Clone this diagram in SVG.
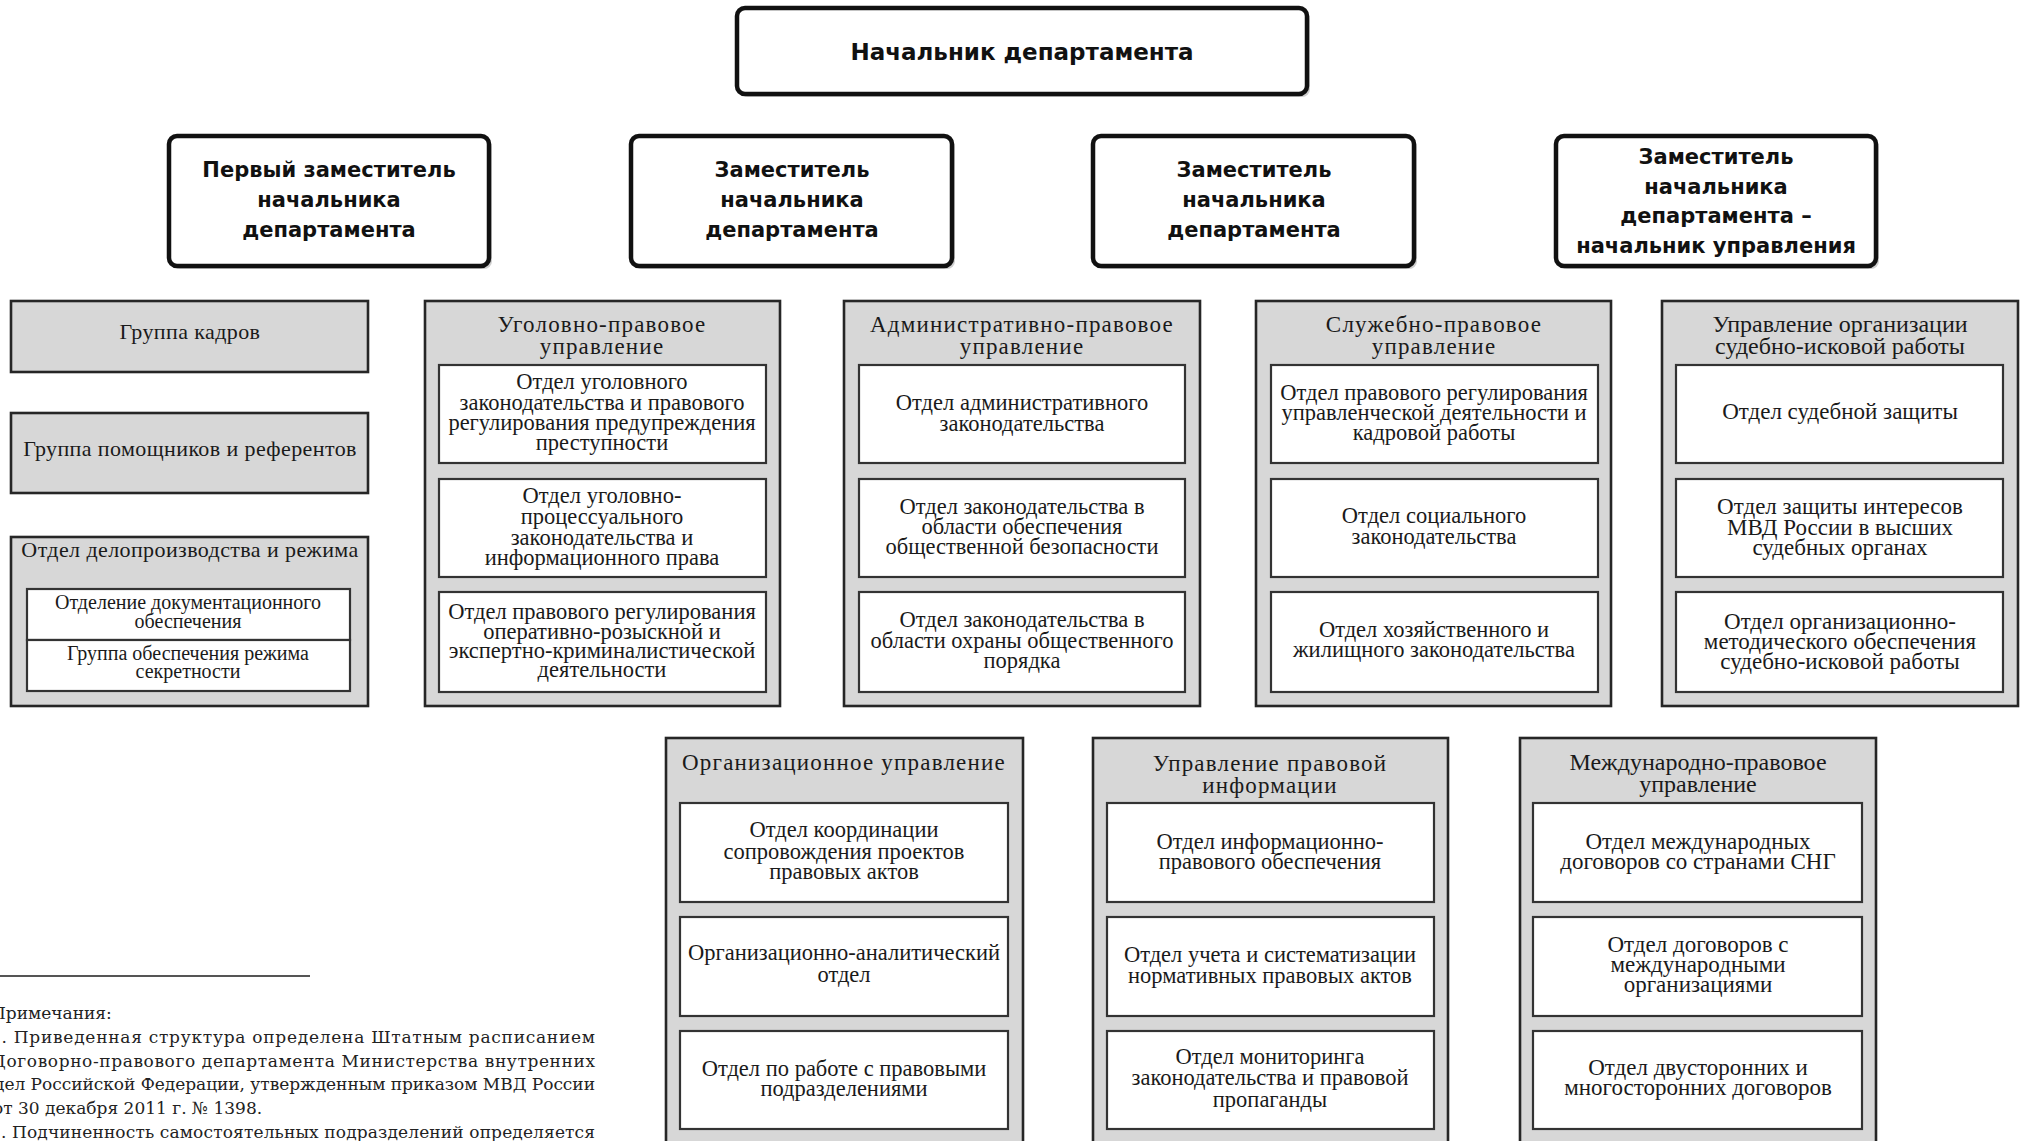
<svg xmlns="http://www.w3.org/2000/svg" width="2024" height="1141" viewBox="0 0 2024 1141">
<defs>
<style>
.lead rect{fill:#fff;stroke:#111;stroke-width:4.5}
.lead .sh{fill:#cfcfcf;stroke:none}
.lead text{font-family:"DejaVu Sans","Liberation Sans",sans-serif;font-weight:bold;font-size:21px;fill:#111;text-anchor:middle}
.lead .big{font-size:23px}
.cont{fill:#d7d7d7;stroke:#262626;stroke-width:2.6}
.box{fill:#fff;stroke:#333;stroke-width:2.2}
.t{font-family:"Liberation Serif","Times New Roman",serif;font-size:22.5px;fill:#1a1a1a;text-anchor:middle}
.h{font-size:23px;letter-spacing:1.2px}
.hl{font-size:22px;letter-spacing:0.4px}
.tb{font-size:23px}
.hb{font-size:24px}
.ts{font-size:20px}
.note{font-family:"DejaVu Serif","Liberation Serif",serif;font-size:17px;fill:#222}
</style>
</defs>
<rect width="2024" height="1141" fill="#fff"/>

<g id="connectors"></g>

<g id="head" class="lead">
<rect class="sh" x="740" y="11" width="570" height="86" rx="8"/>
<rect x="737" y="8" width="570" height="86" rx="8"/>
<text class="big" x="1022" y="60">Начальник департамента</text>
</g>

<g id="dep1" class="lead">
<rect class="sh" x="172" y="139" width="320" height="130" rx="8"/>
<rect x="169" y="136" width="320" height="130" rx="8"/>
<text x="329" y="177">Первый заместитель</text>
<text x="329" y="207">начальника</text>
<text x="329" y="237">департамента</text>
</g>
<g id="dep2" class="lead">
<rect class="sh" x="634" y="139" width="321" height="130" rx="8"/>
<rect x="631" y="136" width="321" height="130" rx="8"/>
<text x="792" y="177">Заместитель</text>
<text x="792" y="207">начальника</text>
<text x="792" y="237">департамента</text>
</g>
<g id="dep3" class="lead">
<rect class="sh" x="1096" y="139" width="321" height="130" rx="8"/>
<rect x="1093" y="136" width="321" height="130" rx="8"/>
<text x="1254" y="177">Заместитель</text>
<text x="1254" y="207">начальника</text>
<text x="1254" y="237">департамента</text>
</g>
<g id="dep4" class="lead">
<rect class="sh" x="1559" y="139" width="320" height="130" rx="8"/>
<rect x="1556" y="136" width="320" height="130" rx="8"/>
<text x="1716" y="164">Заместитель</text>
<text x="1716" y="193.5">начальника</text>
<text x="1716" y="223">департамента –</text>
<text x="1716" y="252.5">начальник управления</text>
</g>

<g id="kadry">
<rect class="cont" x="11" y="301" width="357" height="71"/>
<text class="t hl" x="190" y="339">Группа кадров</text>
</g>
<g id="pomoshniki">
<rect class="cont" x="11" y="413" width="357" height="80"/>
<text class="t hl" x="190" y="456">Группа помощников и референтов</text>
</g>
<g id="delo">
<rect class="cont" x="11" y="537" width="357" height="169"/>
<text class="t hl" x="190" y="557">Отдел делопроизводства и режима</text>
<rect class="box" x="27" y="589" width="323" height="51"/>
<text class="t ts" x="188" y="609">Отделение документационного</text>
<text class="t ts" x="188" y="628">обеспечения</text>
<rect class="box" x="27" y="640" width="323" height="51"/>
<text class="t ts" x="188" y="660">Группа обеспечения режима</text>
<text class="t ts" x="188" y="678">секретности</text>
</g>

<g id="ugol">
<rect class="cont" x="425" y="301" width="355" height="405"/>
<text class="t h" x="602" y="332">Уголовно-правовое</text>
<text class="t h" x="602" y="354">управление</text>
<rect class="box" x="439" y="365" width="327" height="98"/>
<text class="t" x="602" y="389">Отдел уголовного</text>
<text class="t" x="602" y="409.5">законодательства и правового</text>
<text class="t" x="602" y="430">регулирования предупреждения</text>
<text class="t" x="602" y="450">преступности</text>
<rect class="box" x="439" y="479" width="327" height="98"/>
<text class="t" x="602" y="503">Отдел уголовно-</text>
<text class="t" x="602" y="524">процессуального</text>
<text class="t" x="602" y="545">законодательства и</text>
<text class="t" x="602" y="565">информационного права</text>
<rect class="box" x="439" y="592" width="327" height="100"/>
<text class="t" x="602" y="619">Отдел правового регулирования</text>
<text class="t" x="602" y="639">оперативно-розыскной и</text>
<text class="t" x="602" y="658">экспертно-криминалистической</text>
<text class="t" x="602" y="677">деятельности</text>
</g>

<g id="admin">
<rect class="cont" x="844" y="301" width="356" height="405"/>
<text class="t h" x="1022" y="332">Административно-правовое</text>
<text class="t h" x="1022" y="354">управление</text>
<rect class="box" x="859" y="365" width="326" height="98"/>
<text class="t" x="1022" y="410">Отдел административного</text>
<text class="t" x="1022" y="431">законодательства</text>
<rect class="box" x="859" y="479" width="326" height="98"/>
<text class="t" x="1022" y="514">Отдел законодательства в</text>
<text class="t" x="1022" y="534">области обеспечения</text>
<text class="t" x="1022" y="554">общественной безопасности</text>
<rect class="box" x="859" y="592" width="326" height="100"/>
<text class="t" x="1022" y="627">Отдел законодательства в</text>
<text class="t" x="1022" y="648">области охраны общественного</text>
<text class="t" x="1022" y="668">порядка</text>
</g>

<g id="sluzh">
<rect class="cont" x="1256" y="301" width="355" height="405"/>
<text class="t h" x="1434" y="332">Служебно-правовое</text>
<text class="t h" x="1434" y="354">управление</text>
<rect class="box" x="1271" y="365" width="327" height="98"/>
<text class="t" x="1434" y="400">Отдел правового регулирования</text>
<text class="t" x="1434" y="420">управленческой деятельности и</text>
<text class="t" x="1434" y="440">кадровой работы</text>
<rect class="box" x="1271" y="479" width="327" height="98"/>
<text class="t" x="1434" y="523">Отдел социального</text>
<text class="t" x="1434" y="544">законодательства</text>
<rect class="box" x="1271" y="592" width="327" height="100"/>
<text class="t" x="1434" y="637">Отдел хозяйственного и</text>
<text class="t" x="1434" y="657">жилищного законодательства</text>
</g>

<g id="sud">
<rect class="cont" x="1662" y="301" width="356" height="405"/>
<text class="t hb" x="1840" y="332">Управление организации</text>
<text class="t hb" x="1840" y="354">судебно-исковой работы</text>
<rect class="box" x="1676" y="365" width="327" height="98"/>
<text class="t tb" x="1840" y="419">Отдел судебной защиты</text>
<rect class="box" x="1676" y="479" width="327" height="98"/>
<text class="t tb" x="1840" y="514">Отдел защиты интересов</text>
<text class="t tb" x="1840" y="535">МВД России в высших</text>
<text class="t tb" x="1840" y="555">судебных органах</text>
<rect class="box" x="1676" y="592" width="327" height="100"/>
<text class="t tb" x="1840" y="629">Отдел организационно-</text>
<text class="t tb" x="1840" y="649">методического обеспечения</text>
<text class="t tb" x="1840" y="669">судебно-исковой работы</text>
</g>

<g id="org">
<rect class="cont" x="666" y="738" width="357" height="430"/>
<text class="t h" x="844" y="770">Организационное управление</text>
<rect class="box" x="680" y="803" width="328" height="99"/>
<text class="t" x="844" y="837">Отдел координации</text>
<text class="t" x="844" y="859">сопровождения проектов</text>
<text class="t" x="844" y="879">правовых актов</text>
<rect class="box" x="680" y="917" width="328" height="99"/>
<text class="t" x="844" y="960">Организационно-аналитический</text>
<text class="t" x="844" y="982">отдел</text>
<rect class="box" x="680" y="1031" width="328" height="98"/>
<text class="t" x="844" y="1076">Отдел по работе с правовыми</text>
<text class="t" x="844" y="1096">подразделениями</text>
</g>

<g id="pravinf">
<rect class="cont" x="1093" y="738" width="355" height="430"/>
<text class="t h" x="1270" y="771">Управление правовой</text>
<text class="t h" x="1270" y="793">информации</text>
<rect class="box" x="1107" y="803" width="327" height="99"/>
<text class="t" x="1270" y="849">Отдел информационно-</text>
<text class="t" x="1270" y="869">правового обеспечения</text>
<rect class="box" x="1107" y="917" width="327" height="99"/>
<text class="t" x="1270" y="962">Отдел учета и систематизации</text>
<text class="t" x="1270" y="983">нормативных правовых актов</text>
<rect class="box" x="1107" y="1031" width="327" height="98"/>
<text class="t" x="1270" y="1064">Отдел мониторинга</text>
<text class="t" x="1270" y="1085">законодательства и правовой</text>
<text class="t" x="1270" y="1107">пропаганды</text>
</g>

<g id="mezhd">
<rect class="cont" x="1520" y="738" width="356" height="430"/>
<text class="t hb" x="1698" y="770">Международно-правовое</text>
<text class="t hb" x="1698" y="792">управление</text>
<rect class="box" x="1533" y="803" width="329" height="99"/>
<text class="t tb" x="1698" y="849">Отдел международных</text>
<text class="t tb" x="1698" y="869">договоров со странами СНГ</text>
<rect class="box" x="1533" y="917" width="329" height="99"/>
<text class="t tb" x="1698" y="952">Отдел договоров с</text>
<text class="t tb" x="1698" y="972">международными</text>
<text class="t tb" x="1698" y="992">организациями</text>
<rect class="box" x="1533" y="1031" width="329" height="98"/>
<text class="t tb" x="1698" y="1075">Отдел двусторонних и</text>
<text class="t tb" x="1698" y="1095">многосторонних договоров</text>
</g>

<g id="notes">
<line x1="0" y1="976" x2="310" y2="976" stroke="#555" stroke-width="2"/>
<text class="note" x="-9" y="1019">Примечания:</text>
<text class="note" x="-10" y="1043" textLength="605" lengthAdjust="spacing">1. Приведенная структура определена Штатным расписанием</text>
<text class="note" x="-8" y="1067" textLength="603" lengthAdjust="spacing">Договорно-правового департамента Министерства внутренних</text>
<text class="note" x="-6" y="1090" textLength="601" lengthAdjust="spacing">дел Российской Федерации, утвержденным приказом МВД России</text>
<text class="note" x="-7" y="1114">от 30 декабря 2011 г. № 1398.</text>
<text class="note" x="-10" y="1138" textLength="605" lengthAdjust="spacing">2. Подчиненность самостоятельных подразделений определяется</text>
</g>
</svg>
